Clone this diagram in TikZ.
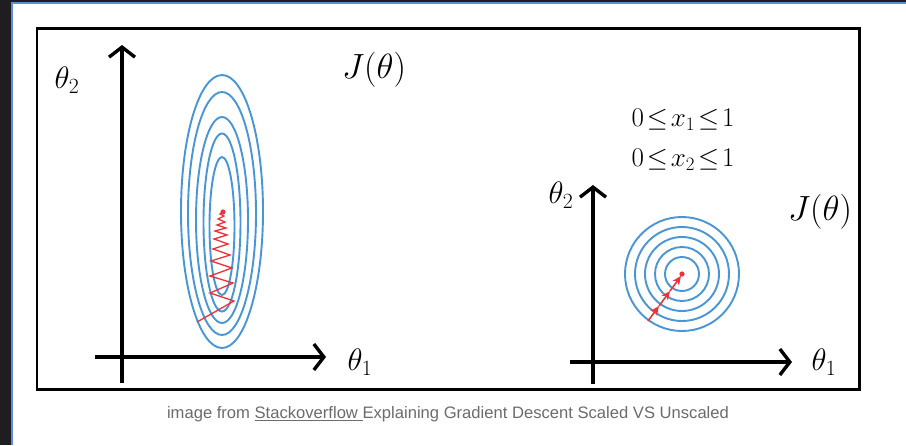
\RequirePackage{fix-cm}
\documentclass[tikz,border=0pt]{standalone}
\usepackage{fontspec}
\newfontfamily\capfont{Liberation Sans}
\usetikzlibrary{arrows.meta,positioning,calc}
\definecolor{pagedark}{RGB}{30,30,32}
\definecolor{frameblue}{RGB}{92,142,222}
\definecolor{contourblue}{RGB}{72,150,214}
\definecolor{pathred}{RGB}{234,52,60}
\definecolor{capgray}{RGB}{108,108,108}

\begin{document}
\begin{tikzpicture}[x=1pt,y=-1pt,
  ax/.style={line width=3.4pt,-{Straight Barb[length=10pt,width=26pt]}},
  lbl/.style={font=\fontsize{31}{34}\selectfont,inner sep=0pt},
  jlbl/.style={font=\fontsize{35}{40}\selectfont,inner sep=0pt},
  cond/.style={font=\fontsize{27}{31}\selectfont,inner sep=0pt},
  contour/.style={draw=contourblue,line width=1.9pt},
  zig/.style={draw=pathred,line width=1.3pt},
  stepar/.style={draw=pathred,line width=1.6pt,-{Stealth[length=9pt,width=8pt]}}]
\useasboundingbox (0,0) rectangle (906,445);
% page behind the figure
\fill[white] (0,0) rectangle (906,445);
\fill[pagedark] (0,0) rectangle (11,445);
\fill[pagedark] (0,0) rectangle (906,2);
\draw[frameblue,line width=1.6pt] (11.8,445) -- (11.8,2.8) -- (906,2.8);
\draw[line width=2.6pt] (37,28.5) rectangle (859.5,389.5);

% left: unscaled features
\coordinate (lo) at (122,383);
\coordinate (ltop) at (122,45);
\coordinate (lleft) at (95,357);
\coordinate (lright) at (326,357);
\draw[ax] (lo) -- (ltop);
\draw[ax] (lleft) -- (lright);
\node[lbl] (lth2) at (67,80) {$\theta_2$};
\node[lbl] (lth1) at (360,362) {$\theta_1$};
\node[jlbl] (lJ) at (374,70) {$J(\theta)$};
\draw[contour] (222,211.5) ellipse [x radius=41,y radius=136.5];
\draw[contour] (222,213.5) ellipse [x radius=34,y radius=121.5];
\draw[contour] (222,220) ellipse [x radius=26,y radius=103];
\draw[contour] (222,222.5) ellipse [x radius=18.5,y radius=89];
\draw[contour] (222,226) ellipse [x radius=12.5,y radius=69];
\draw[zig] (197,322) -- (234,301) -- (210,293) -- (233,283) -- (210,276)
  -- (232,268) -- (211,261) -- (230,255) -- (213,249) -- (228,244)
  -- (214,239) -- (227,235) -- (215,231) -- (226,228) -- (217,225)
  -- (225,222) -- (218,219) -- (224,216) -- (220,214) -- (223,212);
\fill[pathred] (223,212) circle [radius=2.6];

% right: scaled features
\coordinate (ro) at (593,384);
\coordinate (rtop) at (593,185);
\coordinate (rleft) at (570,362);
\coordinate (rright) at (792,362);
\draw[ax] (ro) -- (rtop);
\draw[ax] (rleft) -- (rright);
\node[lbl] (rth2) at (561,195) {$\theta_2$};
\node[lbl] (rth1) at (824,362) {$\theta_1$};
\node[jlbl] (rJ) at (820,212) {$J(\theta)$};
\node[cond] (c1) at (683,120) {$0\!\le\! x_1 \!\le\! 1$};
\node[cond,below=18pt of c1] (c2) {$0\!\le\! x_2 \!\le\! 1$};
\foreach \r in {57,47,37,27,17}
  \draw[contour] (682,274) circle [radius=\r];
\coordinate (s0) at (648,321);
\coordinate (s1) at (659,306);
\coordinate (s2) at (670,291);
\coordinate (s3) at (681,276);
\draw[stepar] (s0) -- (s1);
\draw[stepar] (s1) -- (s2);
\draw[stepar] (s2) -- (s3);
\fill[pathred] (682,274) circle [radius=2.6];

\node[font=\capfont\fontsize{16.6}{19}\selectfont,text=capgray] (cap) at (448,414)
  {image from \underline{Stackoverflow\ }Explaining Gradient Descent Scaled VS Unscaled};
\end{tikzpicture}
\end{document}
